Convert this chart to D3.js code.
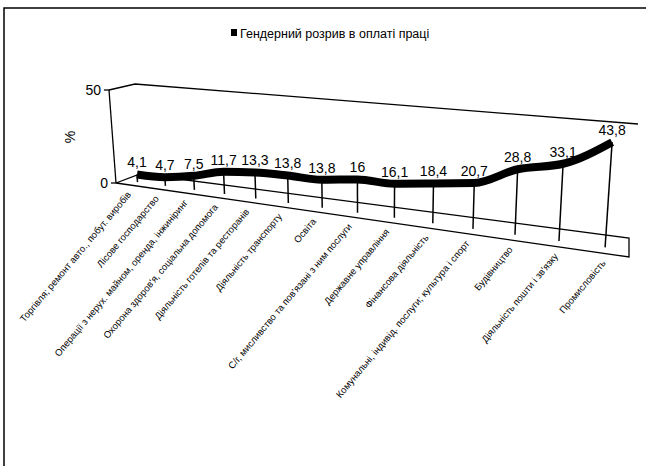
<!DOCTYPE html>
<html>
<head>
<meta charset="utf-8">
<script src="https://cdn.jsdelivr.net/npm/d3@7"></script>
<style>
  html, body { margin: 0; padding: 0; background: #fff; }
  svg { display: block; }
  text { font-family: "Liberation Sans", Arial, sans-serif; fill: #000; }
</style>
</head>
<body>
<svg id="chart" width="646" height="466"></svg>
<script>
// ---- data ----
const categories = [
  "Торгівля; ремонт авто., побут. виробів",
  "Лісове господарство",
  "Операції з нерух. майном, оренда, інжиніринг",
  "Охорона здоров'я, соціальна допомога",
  "Діяльність готелів та ресторанів",
  "Діяльність транспорту",
  "Освіта",
  "С/г, мисливство та пов'язані з ним послуги",
  "Державне управління",
  "Фінансова діяльність",
  "Комунальні, індивід. послуги; культура і спорт",
  "Будівництво",
  "Діяльність пошти і зв'язку",
  "Промисловість"
];
const gapValues = [4.1, 4.7, 7.5, 11.7, 13.3, 13.8, 13.8, 16, 16.1, 18.4, 20.7, 28.8, 33.1, 43.8];
const valueTicks = [0, 50];
const seriesName = "Гендерний розрив в оплаті праці";
const valueAxisTitle = "%";

// ---- 3D box: screen position of the front (z=0) and back (z=1) planes ----
const frontPlane = { p00: [116, 183], p10: [629, 257], p11: [638, 131], p01: [109, 90] };
const backPlane  = { p00: [140, 174], p10: [629, 238], p11: [638, 124], p01: [135, 84] };
const seriesDepth = 0.33;

// unit square -> quadrilateral perspective mapping
function squareToQuad(q) {
  const [x0, y0] = q.p00, [x1, y1] = q.p10, [x2, y2] = q.p11, [x3, y3] = q.p01;
  const dx1 = x1 - x2, dx2 = x3 - x2, dx3 = x0 - x1 + x2 - x3;
  const dy1 = y1 - y2, dy2 = y3 - y2, dy3 = y0 - y1 + y2 - y3;
  const den = dx1 * dy2 - dx2 * dy1;
  const g = (dx3 * dy2 - dx2 * dy3) / den;
  const h = (dx1 * dy3 - dx3 * dy1) / den;
  const a = x1 - x0 + g * x1, b = x3 - x0 + h * x3, c = x0;
  const d = y1 - y0 + g * y1, e = y3 - y0 + h * y3, f = y0;
  return (u, v) => {
    const w = g * u + h * v + 1;
    return [(a * u + b * v + c) / w, (d * u + e * v + f) / w];
  };
}
const front = squareToQuad(frontPlane);
const back = squareToQuad(backPlane);
function project(u, v, z) {
  const p = front(u, v), q = back(u, v);
  return [p[0] + (q[0] - p[0]) * z, p[1] + (q[1] - p[1]) * z];
}

// ---- scales (normalised chart space) ----
const x = d3.scalePoint().domain(categories).range([0, 1]).padding(0.5);
const y = d3.scaleLinear().domain([0, 50]).range([0, 1]);
const fmt = v => String(v).replace(".", ",");

const svg = d3.select("#chart");

// chart area frame
svg.append("rect")
  .attr("x", 4).attr("y", 8).attr("width", 700).attr("height", 500)
  .attr("fill", "none").attr("stroke", "#000").attr("stroke-width", 1.5);

// legend
svg.append("rect").attr("x", 231).attr("y", 29).attr("width", 6).attr("height", 7).attr("fill", "#000");
svg.append("text").attr("x", 240).attr("y", 37.5)
  .style("font-size", "12.5px").text(seriesName);

const edge = svg.append("g").attr("fill", "none").attr("stroke", "#000").attr("stroke-width", 1.3);
const poly = pts => "M" + pts.map(p => p.join(",")).join("L");

// floor
edge.append("path").attr("d", poly([
  project(0, 0, 0), project(0, 0, 1), project(1, 0, 1), project(1, 0, 0)
]) + "Z");

// wall top edges
edge.append("path").attr("d", poly([
  project(0, 1, 0), project(0, 1, 1), project(1, 1, 1)
]));

// value axis
edge.append("path").attr("d", poly([project(0, 0, 0), project(0, 1, 0)]));
valueTicks.forEach(t => {
  const p = project(0, y(t), 0);
  edge.append("path").attr("d", poly([[p[0] - 5, p[1]], p]));
  svg.append("text").attr("x", p[0] - 8).attr("y", p[1]).attr("dy", "0.36em")
    .attr("text-anchor", "end").style("font-size", "14px").text(t);
});
svg.append("text")
  .attr("transform", "translate(75,137) rotate(-90)")
  .attr("text-anchor", "middle").style("font-size", "14px").text(valueAxisTitle);

// drop lines
const points = categories.map((c, i) => ({
  cat: c, value: gapValues[i],
  top: project(x(c), y(gapValues[i]), seriesDepth),
  foot: project(x(c), 0, seriesDepth),
  axis: project(x(c), 0, 0)
}));
svg.append("g").attr("stroke", "#000").attr("stroke-width", 1.5)
  .selectAll("line").data(points).join("line")
  .attr("x1", d => d.top[0]).attr("y1", d => d.top[1])
  .attr("x2", d => d.foot[0]).attr("y2", d => d.foot[1]);

// series ribbon
svg.append("path")
  .attr("d", d3.line().x(d => d.top[0]).y(d => d.top[1]).curve(d3.curveMonotoneX)(points))
  .attr("fill", "none").attr("stroke", "#000").attr("stroke-width", 8)
  .attr("stroke-linejoin", "round");

// value labels
svg.append("g").selectAll("text").data(points).join("text")
  .attr("x", d => d.top[0]).attr("y", d => d.top[1] - 7)
  .attr("text-anchor", "middle").style("font-size", "14px")
  .text(d => fmt(d.value));

// category labels
svg.append("g").selectAll("text").data(points).join("text")
  .attr("transform", d => `translate(${d.axis[0] + 2},${d.axis[1] + 10}) rotate(-50)`)
  .attr("text-anchor", "end").style("font-size", "9.5px")
  .text(d => d.cat);
</script>
</body>
</html>
